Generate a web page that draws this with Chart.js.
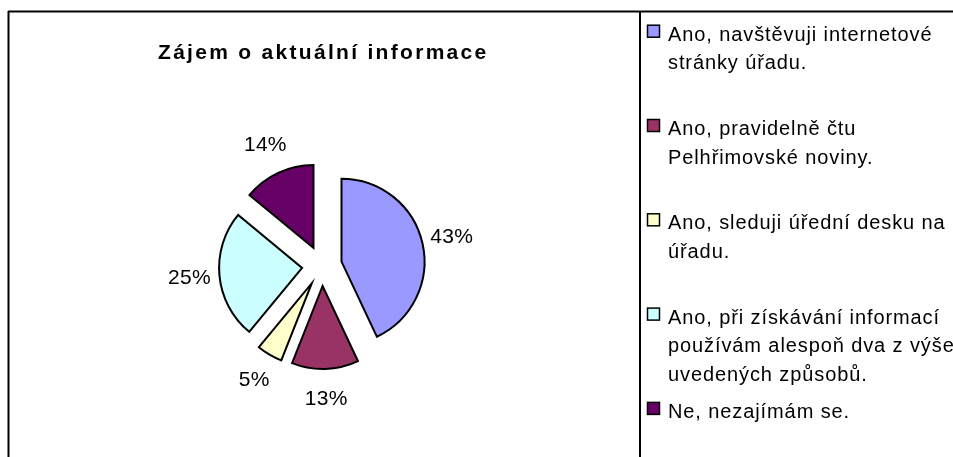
<!DOCTYPE html>
<html>
<head>
<meta charset="utf-8">
<script src="https://cdn.jsdelivr.net/npm/chart.js@4/dist/chart.umd.min.js"></script>
<style>
html,body{margin:0;padding:0;background:#fff;}
#wrap{position:relative;width:953px;height:457px;}
</style>
</head>
<body>
<div id="wrap"><canvas id="c" width="953" height="457"></canvas></div>
<script>
const chartTitle = "Zájem o aktuální informace";
const categories = [
  ["Ano, navštěvuji internetové", "stránky úřadu."],
  ["Ano, pravidelně čtu", "Pelhřimovské noviny."],
  ["Ano, sleduji úřední desku na", "úřadu."],
  ["Ano, při získávání informací", "používám alespoň dva z výše", "uvedených způsobů."],
  ["Ne, nezajímám se."]
];
const shares = [43, 13, 5, 25, 14];
const colors = ["#9999FF", "#993366", "#FFFFCC", "#CCFFFF", "#660066"];

const FONT = '"Liberation Sans", Arial, sans-serif';
const EXPLODE = 20;

const framePlugin = {
  id: 'frame',
  beforeDraw(chart) {
    const ctx = chart.ctx;
    ctx.save();
    ctx.fillStyle = '#fff';
    ctx.fillRect(0, 0, chart.width, chart.height);
    ctx.strokeStyle = '#000';
    ctx.lineWidth = 2;
    ctx.beginPath();
    ctx.moveTo(8, 11.5); ctx.lineTo(chart.width, 11.5);
    ctx.moveTo(8.5, 11); ctx.lineTo(8.5, chart.height);
    ctx.moveTo(640, 11); ctx.lineTo(640, chart.height);
    ctx.stroke();
    // title
    ctx.fillStyle = '#000';
    ctx.font = 'bold 21px ' + FONT;
    try { ctx.letterSpacing = '2.3px'; } catch (e) {}
    ctx.textAlign = 'left';
    ctx.textBaseline = 'alphabetic';
    ctx.fillText(chartTitle, 158, 58.5);
    ctx.restore();
  },
  beforeDatasetsDraw(chart) {
    // exploded slices: translate each arc along its mid angle, drawn by the library's arc element
    const ctx = chart.ctx;
    const meta = chart.getDatasetMeta(0);
    meta.data.forEach((arc) => {
      const mid = (arc.startAngle + arc.endAngle) / 2;
      ctx.save();
      ctx.translate(Math.cos(mid) * EXPLODE, Math.sin(mid) * EXPLODE);
      arc.draw(ctx, chart.chartArea);
      ctx.restore();
    });
    return false;
  },
  afterDraw(chart) {
    const ctx = chart.ctx;
    const meta = chart.getDatasetMeta(0);
    const data = chart.data.datasets[0].data;
    const total = data.reduce((a, b) => a + b, 0);
    ctx.save();
    ctx.fillStyle = '#000';
    ctx.font = '21px ' + FONT;
    try { ctx.letterSpacing = '0.3px'; } catch (e) {}
    ctx.textAlign = 'center';
    ctx.textBaseline = 'middle';
    meta.data.forEach((arc, i) => {
      const p = arc.getProps(['x', 'y', 'startAngle', 'endAngle', 'outerRadius'], true);
      const mid = (p.startAngle + p.endAngle) / 2;
      const r = p.outerRadius + EXPLODE + 30;
      const txt = Math.round(data[i] / total * 100) + '%';
      ctx.fillText(txt, p.x + Math.cos(mid) * r, p.y + Math.sin(mid) * r);
    });
    // legend
    ctx.textAlign = 'left';
    ctx.textBaseline = 'alphabetic';
    ctx.font = '20px ' + FONT;
    try { ctx.letterSpacing = '0.9px'; } catch (e) {}
    chart.data.labels.forEach((lines, i) => {
      const base = 40.7 + i * 94.3;
      ctx.fillStyle = colors[i];
      ctx.fillRect(647.5, base - 15.5, 12, 12);
      ctx.strokeStyle = '#000';
      ctx.lineWidth = 1.5;
      ctx.strokeRect(647.5, base - 15.5, 12, 12);
      ctx.fillStyle = '#000';
      lines.forEach((ln, j) => {
        ctx.fillText(ln, 668, base + j * 28.5);
      });
    });
    ctx.restore();
  }
};

new Chart(document.getElementById('c'), {
  type: 'pie',
  data: {
    labels: categories,
    datasets: [{
      data: shares,
      backgroundColor: colors,
      borderColor: '#000',
      borderWidth: 2,
      borderJoinStyle: 'miter',
      offset: 0,
      hoverOffset: 0
    }]
  },
  options: {
    responsive: false,
    animation: false,
    radius: 83,
    layout: { padding: { left: 100, right: 409, top: 100, bottom: 25 } },
    plugins: {
      legend: { display: false },
      title: { display: false },
      tooltip: { enabled: false }
    },
    events: []
  },
  plugins: [framePlugin]
});
</script>
</body>
</html>
